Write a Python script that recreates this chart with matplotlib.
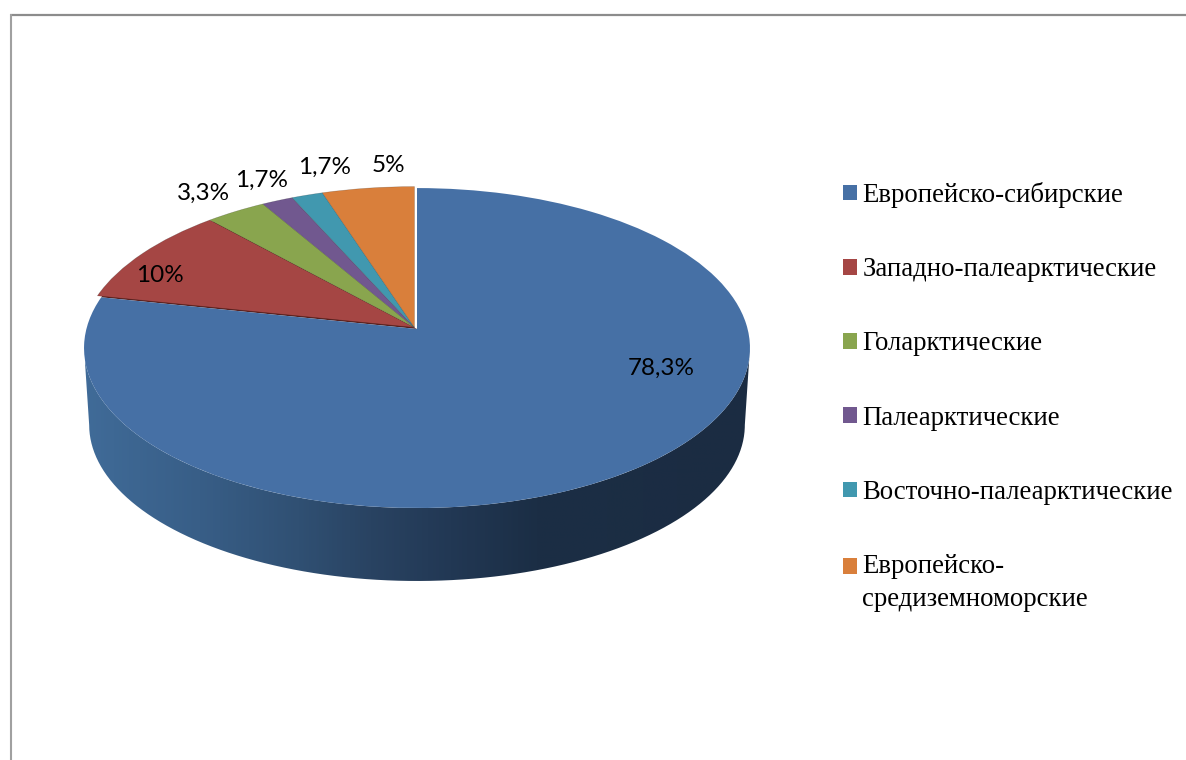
import numpy as np
import matplotlib
matplotlib.use('Agg')
import matplotlib.pyplot as plt
from matplotlib.colors import LinearSegmentedColormap
from matplotlib.patches import Patch, PathPatch
from matplotlib.path import Path
from matplotlib.transforms import Transform

categories = ['Европейско-сибирские', 'Западно-палеарктические', 'Голарктические',
              'Палеарктические', 'Восточно-палеарктические', 'Европейско-\nсредиземноморские']
values = [78.3, 10, 3.3, 1.7, 1.7, 5]
value_labels = ['78,3%', '10%', '3,3%', '1,7%', '1,7%', '5%']
colors = ['#4670a5', '#a54644', '#89a54e', '#71588f', '#4198af', '#d97f3b']

# where the value labels sit, in pixels of the picture
label_pos = [(661, 368), (160, 275), (204, 193), (262, 180), (325, 167), (388, 165)]


class Persp(Transform):
    # unit circle of the pie -> pixels, with a bit of perspective (back is smaller)
    input_dims = 2
    output_dims = 2

    def __init__(self, cx, cy, ax_, ay_, k=0.119):
        super().__init__()
        self.cx, self.cy, self.ax_, self.ay_, self.k = cx, cy, ax_, ay_, k

    def transform_non_affine(self, values):
        values = np.asarray(values, dtype=float)
        w = 1 + self.k * values[:, 1]
        x = self.cx + self.ax_ * values[:, 0] / w
        y = self.cy - self.ay_ * values[:, 1] / w
        return np.column_stack([x, y])


fig = plt.figure(figsize=(11.86, 7.6), dpi=100)
ax = fig.add_axes([0, 0, 1, 1])

wedges, _ = ax.pie(values, colors=colors, startangle=90, counterclock=False, radius=1)

ax.set_xlim(0, 1186)
ax.set_ylim(760, 0)
ax.set_aspect('auto')
ax.axis('off')

top = Persp(417, 329, 330.6, 157.7)
top_small = Persp(414.5, 327.5, 332, 157.7)
bottom = Persp(417, 406.4, 325.5, 153.8)

# side of the pie, only the front part shows
k = top.k
t = np.linspace(np.arcsin(k), np.pi - np.arcsin(k), 200)
rim = np.column_stack([np.cos(t), -np.sin(t)])
wall = np.vstack([top.transform_non_affine(rim), bottom.transform_non_affine(rim[::-1])])
wall_patch = PathPatch(Path(wall), facecolor='none', edgecolor='none', transform=ax.transData)
ax.add_patch(wall_patch)

shade = LinearSegmentedColormap.from_list('shade', [
    (0.0, '#406b98'), (0.17, '#385e87'), (0.32, '#305073'), (0.43, '#294362'),
    (0.55, '#223854'), (0.68, '#1b2e45'), (1.0, '#1b2c42')])
img = ax.imshow(np.linspace(0, 1, 660)[None, :], cmap=shade, aspect='auto',
                extent=(85, 750, 600, 340), zorder=1)
img.set_clip_path(wall_patch)
ax.set_xlim(0, 1186)
ax.set_ylim(760, 0)

# dark cut face under the red slice
under = PathPatch(wedges[1].get_path(), facecolor='#5c2220', edgecolor='none',
                  transform=top + ax.transData, zorder=2)
ax.add_patch(under)

for i, w in enumerate(wedges):
    if i == 0:
        w.set_transform(top + ax.transData)
        w.set_zorder(4)
        w.set_edgecolor('none')
    else:
        w.set_transform(top_small + ax.transData)
        w.set_zorder(3)
        w.set_edgecolor((0, 0, 0, 0.25))
        w.set_linewidth(0.4)

for lab, (x, y) in zip(value_labels, label_pos):
    ax.text(x, y, lab, ha='center', va='center', fontsize=17.5, family='Lato',
            color='black', zorder=6)

# frame of the page
ax.plot([10, 1186], [15, 15], color='#8c8c8c', lw=1.6, solid_capstyle='butt', zorder=0)
ax.plot([10.5, 10.5], [14, 760], color='#a0a0a0', lw=1.5, solid_capstyle='butt', zorder=0)

handles = [Patch(facecolor=c, edgecolor='none') for c in colors]
leg = ax.legend(handles, categories, loc='upper left', bbox_to_anchor=(843 / 1186, 1 - 182 / 760),
                frameon=False, borderpad=0, borderaxespad=0,
                prop={'family': 'Liberation Serif', 'size': 19.25},
                handlelength=0.52, handleheight=0.52, handletextpad=0.2, labelspacing=1.84)
for txt in leg.get_texts():
    txt.set_linespacing(1.4)

# the key of the two-line entry goes with its first line
last = leg.legend_handles[-1]
last.set_y(last.get_y() + 12)

fig.savefig('out.png', dpi=100)
